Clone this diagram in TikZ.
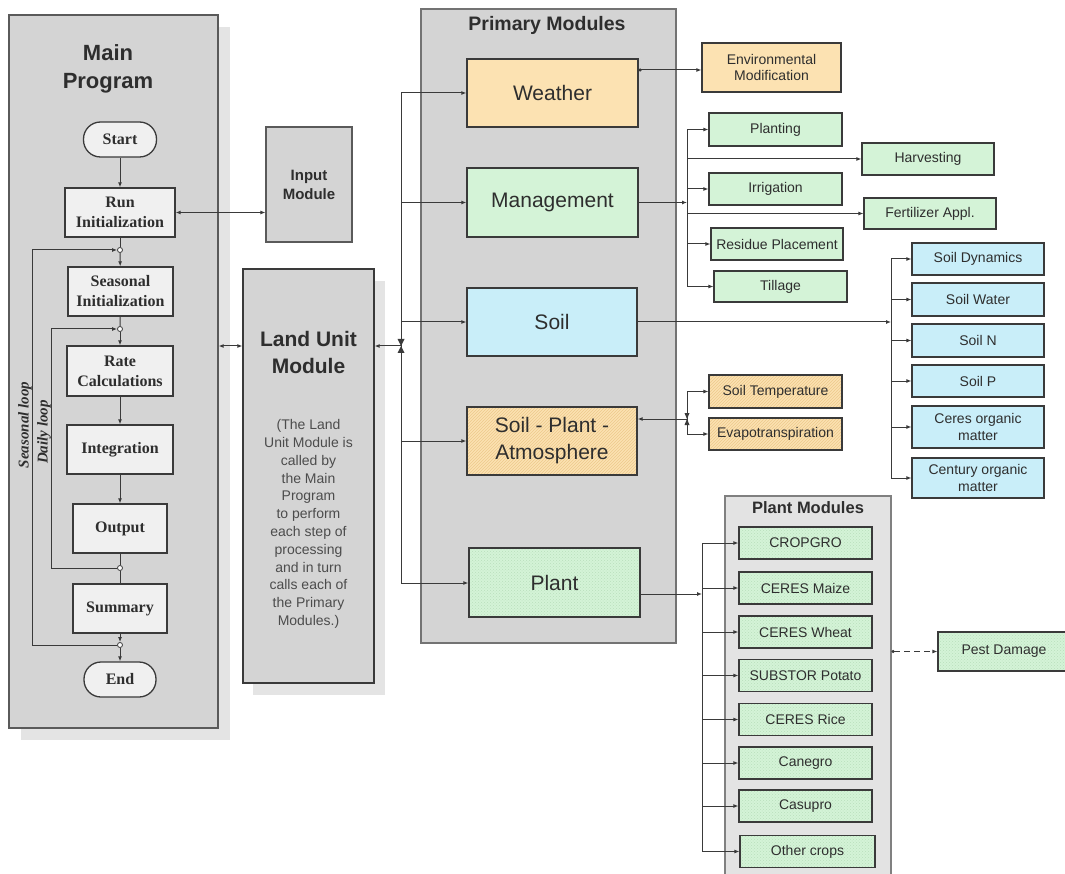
\documentclass[tikz,border=0pt]{standalone}
\usepackage{fontspec}
\setmainfont{Liberation Sans}
\newfontfamily\tnr{Liberation Serif}
\usetikzlibrary{arrows.meta,patterns}
\definecolor{cPanel}{HTML}{D4D4D4}
\definecolor{cPanelB}{HTML}{5A5A5A}
\definecolor{cShadow}{HTML}{E4E4E4}
\definecolor{cFlow}{HTML}{F0F0F0}
\definecolor{cLine}{HTML}{3A3A3A}
\definecolor{cTxt}{HTML}{2E2E2E}
\definecolor{cOrange}{HTML}{FCE2B2}
\definecolor{cOrangeH}{HTML}{EDC98C}
\definecolor{cGreen}{HTML}{D4F3D7}
\definecolor{cGreenD}{HTML}{B9DFBC}
\definecolor{cBlue}{HTML}{C9EEF9}
\definecolor{cPM}{HTML}{E3E3E3}
\tikzset{
  panel/.style={draw=cPanelB, fill=cPanel, line width=1.2pt, inner sep=0pt},
  flow/.style={draw=cLine, fill=cFlow, line width=1.3pt, inner sep=0pt, align=center,
    font=\tnr\bfseries\fontsize{16}{20}\selectfont, text=cTxt},
  term/.style={flow, rounded corners=17pt},
  jc/.style={circle, draw=cLine, fill=white, line width=0.8pt, inner sep=0pt, minimum size=5pt},
  big/.style={draw=cLine, line width=1.3pt, inner sep=0pt, align=center,
    font=\fontsize{21}{27}\selectfont, text=cTxt, minimum width=171pt, minimum height=68pt},
  small/.style={draw=cLine, line width=1.2pt, inner sep=0pt, align=center,
    font=\fontsize{14}{17}\selectfont, text=cTxt, minimum width=133pt, minimum height=32pt},
  orange/.style={fill=cOrange},
  orangeh/.style={preaction={fill=cOrange}, pattern=north east lines, pattern color=cOrangeH},
  green/.style={fill=cGreen},
  greend/.style={preaction={fill=cGreen}, pattern=crosshatch dots, pattern color=cGreenD},
  blue/.style={fill=cBlue},
  ln/.style={draw=cLine, line width=1pt},
  arr/.style={ln, -{Latex[length=5pt,width=4pt]}},
  darr/.style={ln, {Latex[length=5pt,width=4pt]}-{Latex[length=5pt,width=4pt]}},
  rarr/.style={ln, {Latex[length=5pt,width=4pt]}-},
}
\begin{document}
\begin{tikzpicture}[x=1pt,y=-1pt]
\useasboundingbox (0,0) rectangle (1065,874);
\fill[white] (0,0) rectangle (1065,874);

% ---------- Main program ----------
\fill[cShadow] (21,27) rectangle (230,740);
\node[panel, minimum width=209pt, minimum height=713pt] (mainpanel) at (113.5,371.5) {};
\node[font=\bfseries\fontsize{22}{28}\selectfont, text=cTxt, align=center] (maintitle) at (108,69) {Main\\Program};

\node[term, minimum width=73pt, minimum height=35pt] (start) at (120,139.5) {Start};
\node[flow, minimum width=110pt, minimum height=49pt] (runinit) at (120,212.5) {Run\\Initialization};
\node[jc] (j1) at (120,250) {};
\node[flow, minimum width=105pt, minimum height=49pt] (seasinit) at (120.5,291.5) {Seasonal\\Initialization};
\node[jc] (j2) at (120,329) {};
\node[flow, minimum width=106pt, minimum height=50pt] (rate) at (120,371) {Rate\\Calculations};
\node[flow, minimum width=106pt, minimum height=49pt] (integ) at (120,449.5) {Integration};
\node[flow, minimum width=94pt, minimum height=49pt] (output) at (120,528.5) {Output};
\node[jc] (j3) at (120,568) {};
\node[flow, minimum width=94pt, minimum height=49pt] (summary) at (120,608.5) {Summary};
\node[jc] (j4) at (120,645) {};
\node[term, minimum width=72pt, minimum height=35pt] (endn) at (120,679.5) {End};

\draw[arr] (start) -- (runinit);
\draw[ln] (runinit) -- (j1);
\draw[arr] (j1) -- (seasinit);
\draw[ln] (seasinit) -- (j2);
\draw[arr] (j2) -- (rate);
\draw[arr] (rate) -- (integ);
\draw[arr] (integ) -- (output);
\draw[ln] (output) -- (j3);
\draw[ln] (j3) -- (summary);
\draw[arr] (summary) -- (j4);
\draw[arr] (j4) -- (endn);

\coordinate (slb) at (32,645);
\coordinate (slt) at (32,250);
\coordinate (dlb) at (51,568);
\coordinate (dlt) at (51,329);
\draw[arr] (j4) -- (slb) -- (slt) -- (j1);
\draw[arr] (j3) -- (dlb) -- (dlt) -- (j2);
\node[rotate=90, font=\tnr\bfseries\itshape\fontsize{15}{18}\selectfont, text=cTxt] (sllab) at (25,425) {Seasonal loop};
\node[rotate=90, font=\tnr\bfseries\itshape\fontsize{15}{18}\selectfont, text=cTxt] (dllab) at (44,432) {Daily loop};

% ---------- Input & Land Unit ----------
\node[draw=cPanelB, fill=cPanel, line width=1.2pt, minimum width=86pt, minimum height=115pt, inner sep=0pt,
  align=center, font=\bfseries\fontsize{15}{19}\selectfont, text=cTxt] (input) at (309,184.5) {Input\\Module};
\draw[darr] (runinit) -- (runinit -| input.west);

\fill[cShadow] (253,281) rectangle (385,695);
\node[panel, draw=cLine, minimum width=131pt, minimum height=414pt] (lu) at (308.5,476) {};
\node[font=\bfseries\fontsize{21}{27}\selectfont, text=cTxt, align=center] (lutitle) at (308.5,352) {Land Unit\\Module};
\node[font=\fontsize{14}{17.8}\selectfont, text=black!70, align=center] (lubody) at (308.5,524)
  {(The Land\\Unit Module is\\called by\\the Main\\Program\\to perform\\each step of\\processing\\and in turn\\calls each of\\the Primary\\Modules.)};

\coordinate (luy) at (0,346);
\draw[darr] (mainpanel.east |- luy) -- (lu.west |- luy);

% ---------- Primary modules ----------
\node[panel, draw=black!55, fill=black!17, minimum width=255pt, minimum height=634pt] (prim) at (548.5,326) {};
\node[font=\bfseries\fontsize{19.5}{24}\selectfont, text=cTxt] (primtitle) at (547,25) {Primary Modules};

\node[big, orange] (weather) at (552.5,93) {Weather};
\node[big, green, minimum height=69pt] (mgmt) at (552.5,202.5) {Management};
\node[big, blue, minimum width=170pt] (soil) at (552,322) {Soil};
\node[big, orangeh, minimum width=170pt] (spa) at (552,441) {Soil - Plant -\\Atmosphere};
\node[big, greend, minimum height=69pt] (plant) at (554.5,582.5) {Plant};

\coordinate (bus) at (401,346);
\coordinate (bustop) at (401,93);
\coordinate (busbot) at (401,583);
\draw[ln] (bustop) -- (busbot);
\draw[rarr] (lu.east |- bus) -- (bus);
\fill[cLine] (397.5,339) -- (404.5,339) -- (401,346) -- cycle;
\fill[cLine] (397.5,353) -- (404.5,353) -- (401,346) -- cycle;
\draw[arr] (bustop) -- (weather);
\draw[arr] (bus |- mgmt) -- (mgmt);
\draw[arr] (bus |- soil) -- (soil);
\draw[arr] (bus |- spa) -- (spa);
\draw[arr] (busbot) -- (plant.west |- busbot);

% ---------- Weather branch ----------
\node[small, orange, minimum width=139pt, minimum height=49pt, font=\fontsize{14}{16}\selectfont] (envmod) at (771.5,67.5) {Environmental\\Modification};
\coordinate (wy) at (0,70);
\draw[ln, {Circle[length=3pt]}-{Latex[length=5pt,width=4pt]}] (weather.east |- wy) -- (envmod.west |- wy);

% ---------- Management branch ----------
\node[small, green, minimum height=33pt] (planting) at (775.5,129.5) {Planting};
\node[small, green, minimum width=132pt] (harvest) at (928,159) {Harvesting};
\node[small, green] (irrig) at (775.5,189) {Irrigation};
\node[small, green, minimum width=132pt, minimum height=31pt] (fert) at (930,213.5) {Fertilizer Appl.};
\node[small, green, minimum width=132pt] (residue) at (777,244) {Residue Placement};
\node[small, green, minimum height=31pt] (tillage) at (780.5,286.5) {Tillage};
\coordinate (mj) at (687,202.5);
\draw[arr] (mgmt) -- (mj);
\draw[ln] (mj |- planting) -- (mj |- tillage);
\foreach \n in {planting,harvest,irrig,fert,residue,tillage}
  \draw[arr] (mj |- \n) -- (\n);

% ---------- Soil branch ----------
\node[small, blue, minimum width=132pt] (sdyn) at (978,259) {Soil Dynamics};
\node[small, blue, minimum width=132pt, minimum height=33pt] (swater) at (978,299.5) {Soil Water};
\node[small, blue, minimum width=132pt, minimum height=33pt] (sn) at (978,340.5) {Soil N};
\node[small, blue, minimum width=132pt] (sp) at (978,381) {Soil P};
\node[small, blue, minimum width=132pt, minimum height=42pt] (ceres) at (978,427) {Ceres organic\\matter};
\node[small, blue, minimum width=132pt, minimum height=40pt] (century) at (978,478) {Century organic\\matter};
\coordinate (sj) at (891,322);
\draw[arr] (soil) -- (sj);
\draw[ln] (sj |- sdyn) -- (sj |- century);
\foreach \n in {sdyn,swater,sn,sp,ceres,century}
  \draw[arr] (sj |- \n) -- (\n);

% ---------- Soil-Plant-Atmosphere branch ----------
\node[small, orangeh, minimum height=33pt] (stemp) at (775.5,391.5) {Soil Temperature};
\node[small, orangeh] (evap) at (775.5,434) {Evapotranspiration};
\coordinate (spj) at (687,419);
\draw[rarr] (spa.east |- spj) -- (spj);
\draw[ln] (spj |- stemp) -- (spj |- evap);
\fill[cLine] (684.5,413) -- (689.5,413) -- (687,419) -- cycle;
\fill[cLine] (684.5,425) -- (689.5,425) -- (687,419) -- cycle;
\draw[arr] (spj |- stemp) -- (stemp);
\draw[arr] (spj |- evap) -- (evap);

% ---------- Plant modules ----------
\node[draw=black!50, fill=cPM, line width=1.1pt, minimum width=166pt, minimum height=384pt, inner sep=0pt] (pmpanel) at (808,688) {};
\node[font=\bfseries\fontsize{16.5}{20}\selectfont, text=cTxt] (pmtitle) at (808,508) {Plant Modules};
\node[small, greend] (c1) at (805.5,543) {CROPGRO};
\node[small, greend] (c2) at (805.5,588) {CERES Maize};
\node[small, greend] (c3) at (805.5,632) {CERES Wheat};
\node[small, greend] (c4) at (805.5,675.5) {SUBSTOR Potato};
\node[small, greend] (c5) at (805.5,719.5) {CERES Rice};
\node[small, greend] (c6) at (805.5,763) {Canegro};
\node[small, greend] (c7) at (805.5,806) {Casupro};
\node[small, greend, minimum width=135pt] (c8) at (807.5,851.5) {Other crops};
\coordinate (pj) at (702,594);
\draw[arr] (plant.east |- pj) -- (pj);
\draw[ln] (pj |- c1) -- (pj |- c8);
\foreach \n in {c1,c2,c3,c4,c5,c6,c7,c8}
  \draw[arr] (pj |- \n) -- (\n);

\node[small, greend, minimum width=132pt, minimum height=39pt] (pest) at (1004,651.5) {Pest Damage};
\draw[ln, dashed, dash pattern=on 6pt off 4pt, {Circle[length=3pt]}-{Latex[length=5pt,width=4pt]}] (pmpanel.east |- pest) -- (pest);
\end{tikzpicture}
\end{document}
